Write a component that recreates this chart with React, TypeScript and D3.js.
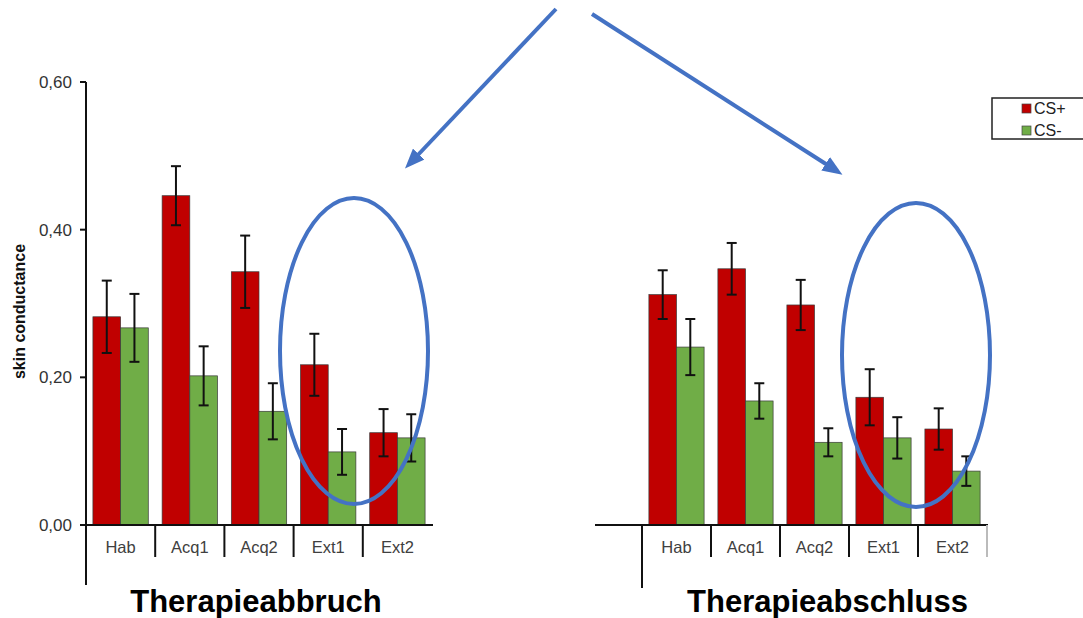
import React from 'react';
import * as d3 from 'd3';

// Data
const categories = ['Hab', 'Acq1', 'Acq2', 'Ext1', 'Ext2'];
const yTickValues = [0, 0.2, 0.4, 0.6];

// Therapieabbruch
const abbruchCSPlus = [0.282, 0.446, 0.343, 0.217, 0.125];
const abbruchCSPlusErr = [0.049, 0.040, 0.049, 0.042, 0.032];
const abbruchCSMinus = [0.267, 0.202, 0.154, 0.099, 0.118];
const abbruchCSMinusErr = [0.046, 0.040, 0.038, 0.031, 0.032];

// Therapieabschluss
const abschlussCSPlus = [0.312, 0.347, 0.298, 0.173, 0.130];
const abschlussCSPlusErr = [0.033, 0.035, 0.034, 0.038, 0.028];
const abschlussCSMinus = [0.241, 0.168, 0.112, 0.118, 0.073];
const abschlussCSMinusErr = [0.038, 0.024, 0.019, 0.028, 0.020];

const RED = '#C00000';
const GREEN = '#70AD47';
const BLUE = '#4472C4';
const FONT = '"Liberation Sans", Arial, sans-serif';

const WIDTH = 1083;
const HEIGHT = 618;
const Y0 = 525; // baseline pixel
const YTOP = 82;

const yScale = d3.scaleLinear().domain([0, 0.6]).range([Y0, YTOP]);

type PanelProps = {
  left: number;
  right: number;
  plus: number[];
  plusErr: number[];
  minus: number[];
  minusErr: number[];
  title: string;
  titleShift: number;
  showAxis: boolean;
};

const Panel = ({ left, right, plus, plusErr, minus, minusErr, title, titleShift, showAxis }: PanelProps) => {
  const x = d3.scaleBand<string>()
    .domain(categories)
    .range([left, right])
    .paddingInner(0.2)
    .paddingOuter(0.1);
  const step = x.step();
  const sub = d3.scaleBand<string>()
    .domain(['plus', 'minus'])
    .range([0, x.bandwidth()]);

  const series = [
    { key: 'plus', values: plus, errs: plusErr, color: RED },
    { key: 'minus', values: minus, errs: minusErr, color: GREEN },
  ];

  const boundaries = d3.range(categories.length + 1).map(i => left + i * step);

  return (
    <g>
      {/* bars */}
      {series.map(s => s.values.map((v, i) => (
        <rect
          key={s.key + i}
          x={(x(categories[i]) as number) + (sub(s.key) as number)}
          y={yScale(v)}
          width={sub.bandwidth()}
          height={Y0 - yScale(v)}
          fill={s.color}
          stroke="#3a3a3a"
          strokeWidth={0.7}
        />
      )))}

      {/* error bars */}
      {series.map(s => s.values.map((v, i) => {
        const cx = (x(categories[i]) as number) + (sub(s.key) as number) + sub.bandwidth() / 2;
        const top = yScale(v + s.errs[i]);
        const bot = yScale(v - s.errs[i]);
        return (
          <g key={'e' + s.key + i} stroke="#111" strokeWidth={2}>
            <line x1={cx} x2={cx} y1={top} y2={bot} />
            <line x1={cx - 5} x2={cx + 5} y1={top} y2={top} />
            <line x1={cx - 5} x2={cx + 5} y1={bot} y2={bot} />
          </g>
        );
      }))}

      {/* x axis */}
      <line
        x1={showAxis ? left - 6 : left - 47}
        x2={right + 1}
        y1={Y0}
        y2={Y0}
        stroke="#111"
        strokeWidth={2}
      />
      {boundaries.map((bx, i) => {
        if (i === 0) {
          return (
            <line key={'b' + i} x1={bx} x2={bx}
              y1={showAxis ? YTOP : Y0} y2={showAxis ? 585 : 588}
              stroke="#111" strokeWidth={2} />
          );
        }
        if (i === categories.length && showAxis) return null;
        return (
          <line key={'b' + i} x1={bx} x2={bx} y1={Y0} y2={557}
            stroke={i === categories.length ? '#bbb' : '#111'} strokeWidth={2} />
        );
      })}
      {categories.map((c, i) => (
        <text
          key={'t' + c}
          x={left + i * step + step / 2}
          y={553}
          textAnchor="middle"
          fontFamily={FONT}
          fontSize={16.5}
          fill="#404040"
        >
          {c}
        </text>
      ))}

      {/* y axis */}
      {showAxis && yTickValues.map(t => (
        <g key={'y' + t}>
          <line x1={left - 6} x2={left} y1={yScale(t)} y2={yScale(t)} stroke="#111" strokeWidth={2} />
          <text
            x={left - 14}
            y={yScale(t) + 6}
            textAnchor="end"
            fontFamily={FONT}
            fontSize={17}
            fill="#333"
          >
            {d3.format('.2f')(t).replace('.', ',')}
          </text>
        </g>
      ))}
      {showAxis && (
        <text
          transform={`translate(25, ${(YTOP + Y0) / 2 + 8}) rotate(-90)`}
          textAnchor="middle"
          fontFamily={FONT}
          fontSize={16}
          fontWeight="bold"
          fill="#111"
        >
          skin conductance
        </text>
      )}

      {/* panel title */}
      <text
        x={(left + right) / 2 + titleShift}
        y={612}
        textAnchor="middle"
        fontFamily={FONT}
        fontSize={31}
        fontWeight="bold"
        fill="#000"
      >
        {title}
      </text>
    </g>
  );
};

export default function App() {
  return (
    <div style={{ position: 'absolute', left: 0, top: 0 }}>
      <svg width={WIDTH} height={HEIGHT} style={{ display: 'block', background: '#fff' }}>
        <defs>
          <marker id="arrow" markerUnits="userSpaceOnUse" markerWidth={20} markerHeight={16}
            refX={4} refY={8} orient="auto" viewBox="0 0 20 16">
            <path d="M0,0 L20,8 L0,16 Z" fill={BLUE} />
          </marker>
        </defs>

        <Panel
          left={86}
          right={432}
          plus={abbruchCSPlus}
          plusErr={abbruchCSPlusErr}
          minus={abbruchCSMinus}
          minusErr={abbruchCSMinusErr}
          title="Therapieabbruch"
          titleShift={-3}
          showAxis={true}
        />
        <Panel
          left={642}
          right={987}
          plus={abschlussCSPlus}
          plusErr={abschlussCSPlusErr}
          minus={abschlussCSMinus}
          minusErr={abschlussCSMinusErr}
          title="Therapieabschluss"
          titleShift={13}
          showAxis={false}
        />

        {/* annotations */}
        <ellipse cx={354} cy={351} rx={74} ry={153} fill="none" stroke={BLUE} strokeWidth={4} />
        <ellipse cx={916} cy={355} rx={74} ry={152} fill="none" stroke={BLUE} strokeWidth={4} />
        <line x1={556} y1={9} x2={416} y2={157} stroke={BLUE} strokeWidth={4} markerEnd="url(#arrow)" />
        <line x1={592} y1={14} x2={829} y2={166} stroke={BLUE} strokeWidth={4} markerEnd="url(#arrow)" />

        {/* legend */}
        <rect x={992} y={98} width={100} height={41} fill="#fff" stroke="#222" strokeWidth={1.5} />
        <rect x={1022} y={104} width={9} height={9} fill={RED} stroke="#444" strokeWidth={0.7} />
        <text x={1034} y={114} fontFamily={FONT} fontSize={16} fill="#222">CS+</text>
        <rect x={1022} y={126} width={9} height={9} fill={GREEN} stroke="#444" strokeWidth={0.7} />
        <text x={1034} y={136} fontFamily={FONT} fontSize={16} fill="#222">CS-</text>
      </svg>
    </div>
  );
}
